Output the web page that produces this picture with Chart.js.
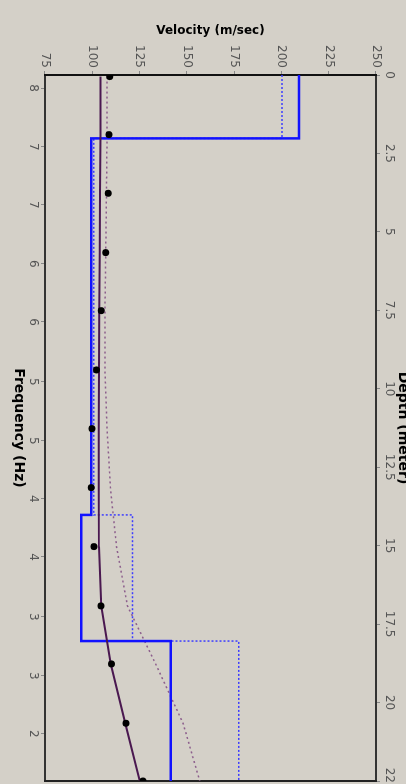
<!DOCTYPE html>
<html lang="en">
<head>
  <meta charset="UTF-8" />
  <title>Velocity profile</title>
  <script src="https://cdn.jsdelivr.net/npm/chart.js"></script>
  <style>
    html, body {
      margin: 0;
      width: 406px;
      height: 784px;
      overflow: hidden;
      background: #d4d0c8;
    }
    /* chart is drawn lying down (depth across) and turned a quarter turn clockwise */
    #wrap {
      position: absolute;
      left: 0;
      top: 0;
      width: 800px;
      height: 420px;
      transform-origin: 0 0;
      transform: translate(420px, 0) rotate(90deg);
    }
  </style>
</head>
<body>
  <div id="wrap"><canvas id="chart" width="800" height="420"></canvas></div>

  <script>
    // measured dispersion points (depth in m, phase velocity in m/s)
    const dotDepth = [0.05, 1.9, 3.77, 5.66, 7.51, 9.4, 11.27, 13.15, 15.03, 16.92, 18.77, 20.66, 22.5];
    const dotVelocity = [109.2, 108.8, 108.5, 107.1, 104.8, 102.2, 99.9, 99.5, 100.9, 104.6, 110.1, 117.8, 126.8];
    // theoretical curves
    const fitCurveVelocity = [104.4, 104.3, 104.1, 103.9, 103.7, 103.5, 103.4, 103.4, 103.6, 104.8, 109.8, 117.4, 125.1];
    const initCurveVelocity = [107.8, 107.8, 107.5, 107.1, 106.7, 106.7, 107.8, 109.6, 112.8, 118.6, 133.5, 148.0, 156.8];
    // layered shear velocity models
    const layerDepth = [0, 2.02, 14.02, 18.04, 22.5];
    const finalLayerVel = [209.3, 99.5, 94.2, 141.5, 141.5];
    const initLayerVel = [200.3, 100.8, 121.2, 177.4, 177.4];

    const velocityTicks = [75, 100, 125, 150, 175, 200, 225, 250];
    const depthTicks = [0, 2.5, 5, 7.5, 10, 12.5, 15, 17.5, 20, 22.5];
    const freqTickPos = [0.42, 2.29, 4.14, 6.02, 7.87, 9.78, 11.66, 13.51, 15.36, 17.27, 19.15, 21.0];
    const freqLabels = ['8', '7', '7', '6', '6', '5', '5', '4', '4', '3', '3', '2'];

    const zip = (xs, ys) => xs.map((x, i) => ({ x: x, y: ys[i] }));

    Chart.defaults.font.family = "'DejaVu Sans', sans-serif";
    Chart.defaults.font.size = 12;

    const tickFont = { size: 12 };
    const tickColor = '#555';

    new Chart(document.getElementById('chart'), {
      type: 'line',
      data: {
        datasets: [
          {
            label: 'Measured',
            data: zip(dotDepth, dotVelocity),
            showLine: false,
            pointRadius: 3.5,
            pointBackgroundColor: '#000',
            pointBorderWidth: 0,
            order: 0
          },
          {
            label: 'Final curve',
            data: zip(dotDepth, fitCurveVelocity),
            borderColor: '#4a1850',
            borderWidth: 2,
            pointRadius: 0,
            order: 1
          },
          {
            label: 'Final model',
            data: zip(layerDepth, finalLayerVel),
            borderColor: '#1212ff',
            borderWidth: 2.5,
            stepped: 'before',
            pointRadius: 0,
            order: 2
          },
          {
            label: 'Initial curve',
            data: zip(dotDepth, initCurveVelocity),
            borderColor: '#8c5e8c',
            borderWidth: 1.5,
            borderDash: [2, 3],
            pointRadius: 0,
            order: 3
          },
          {
            label: 'Initial model',
            data: zip(layerDepth, initLayerVel),
            borderColor: '#3c3cff',
            borderWidth: 1.5,
            borderDash: [2, 2],
            stepped: 'before',
            pointRadius: 0,
            order: 4
          }
        ]
      },
      options: {
        responsive: false,
        animation: false,
        devicePixelRatio: 1,
        layout: { padding: 0 },
        plugins: {
          legend: { display: false },
          tooltip: { enabled: false }
        },
        scales: {
          x: {
            type: 'linear',
            position: 'top',
            min: 0,
            max: 22.5,
            afterBuildTicks: s => { s.ticks = depthTicks.map(v => ({ value: v })); },
            afterFit: s => { s.height = 44; },
            ticks: { color: tickColor, font: tickFont, padding: 2, maxRotation: 0, autoSkip: false, callback: v => String(v) },
            grid: { drawOnChartArea: false, tickLength: 4, tickColor: '#888' },
            border: { color: '#333', width: 2 },
            title: { display: true, text: 'Depth (meter)', color: '#000', font: { size: 14, weight: 'bold' }, padding: { top: 9, bottom: 0 } }
          },
          freq: {
            type: 'linear',
            position: 'bottom',
            min: 0,
            max: 22.5,
            afterBuildTicks: s => { s.ticks = freqTickPos.map(v => ({ value: v })); },
            afterFit: s => { s.height = 45; },
            ticks: { color: tickColor, font: tickFont, padding: 1, maxRotation: 0, autoSkip: false, callback: (v, i) => freqLabels[i] },
            grid: { drawOnChartArea: false, tickLength: 4, tickColor: '#888' },
            border: { color: '#333', width: 2 },
            title: { display: true, text: 'Frequency (Hz)', color: '#000', font: { size: 14, weight: 'bold' }, padding: { top: 0, bottom: 10 } }
          },
          y: {
            type: 'linear',
            position: 'left',
            min: 75,
            max: 250,
            afterBuildTicks: s => { s.ticks = velocityTicks.map(v => ({ value: v })); },
            afterFit: s => { s.width = 75; },
            ticks: { color: tickColor, font: tickFont, padding: 3, autoSkip: false, callback: v => String(v) },
            grid: { drawOnChartArea: false, tickLength: 4, tickColor: '#888' },
            border: { color: '#111', width: 2 },
            title: { display: true, text: 'Velocity (m/sec)', color: '#000', font: { size: 12, weight: 'bold' }, padding: { top: 24, bottom: 0 } }
          },
          edge: {
            type: 'linear',
            position: 'right',
            min: 75,
            max: 250,
            afterFit: s => { s.width = 19; },
            ticks: { display: false },
            grid: { drawOnChartArea: false, drawTicks: false },
            border: { color: '#222', width: 2 }
          }
        }
      }
    });
  </script>
</body>
</html>
